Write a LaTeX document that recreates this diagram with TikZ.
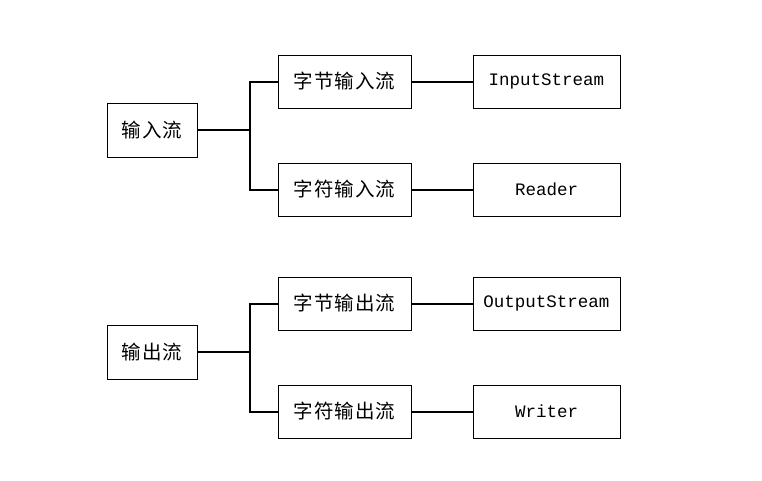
\documentclass[tikz,border=0pt]{standalone}
\usepackage{fontspec}
\setmonofont{Liberation Mono}
\newfontfamily\cjk[LetterSpace=5]{Noto Sans CJK SC}
\usetikzlibrary{positioning}

\begin{document}
\begin{tikzpicture}[
		x=1pt, y=-1pt,
		node distance=61pt,
		box/.style={draw, line width=1pt, inner sep=0pt, minimum width=133pt, minimum height=53pt, font=\cjk\fontsize{19.5}{22}\selectfont},
		rootbox/.style={box, minimum width=90pt, minimum height=54pt},
		classbox/.style={box, minimum width=147pt, font=\ttfamily\fontsize{17.5}{20}\selectfont},
		link/.style={line width=2pt}
	]
		\useasboundingbox (0,0) rectangle (762,480);

		\node[rootbox] (in) at (152,130) {输入流};
		\node[box] (inbyte) at (344.5,81.5) {字节输入流};
		\node[box] (inchar) at (344.5,189.5) {字符输入流};
		\node[classbox, right=of inbyte] (instream) {InputStream};
		\node[classbox, right=of inchar] (reader) {Reader};

		\node[rootbox] (out) at (152,352) {输出流};
		\node[box] (outbyte) at (344.5,303.5) {字节输出流};
		\node[box] (outchar) at (344.5,411.5) {字符输出流};
		\node[classbox, right=of outbyte] (outstream) {OutputStream};
		\node[classbox, right=of outchar] (writer) {Writer};

		\coordinate (injoin) at (250,130);
		\coordinate (outjoin) at (250,352);

		\draw[link] (in) -- (injoin);
		\draw[link] (injoin) |- (inbyte);
		\draw[link] (injoin) |- (inchar);
		\draw[link] (inbyte) -- (instream);
		\draw[link] (inchar) -- (reader);

		\draw[link] (out) -- (outjoin);
		\draw[link] (outjoin) |- (outbyte);
		\draw[link] (outjoin) |- (outchar);
		\draw[link] (outbyte) -- (outstream);
		\draw[link] (outchar) -- (writer);
	\end{tikzpicture}
\end{document}
